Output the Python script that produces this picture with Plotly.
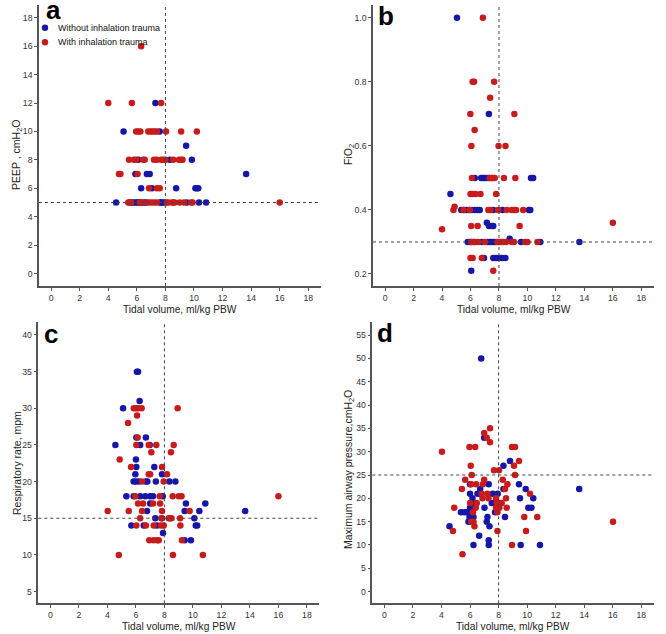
import plotly.graph_objects as go

# ---------------- data (tidal volume, ml/kg PBW, grouped by y value) ----------------
# Panel a: PEEP
peep_without = [(12, [7.3]), (10, [5.07, 7.6]), (9, [9.45]), (8, [6.1, 8.3, 9.85]),
                (7, [5.9, 6.7, 6.9, 13.65]), (6, [6.3, 7.05, 8.75, 10.1, 10.2, 10.3]),
                (5, [4.55, 5.5, 5.65, 5.8, 5.95, 6.05, 6.15, 6.3, 6.5, 6.65, 7.6, 7.7, 7.8, 7.9, 9.5, 10.35, 10.85])]
peep_with = [(16, [6.3]), (12, [4.0, 5.65, 7.7]),
             (10, [5.95, 6.1, 6.25, 6.8, 6.95, 7.1, 7.25, 7.4, 8.04, 9.1, 10.2]),
             (8, [5.45, 5.8, 5.95, 6.45, 6.55, 7.2, 7.4, 7.7, 7.85, 8.0, 8.55, 8.95, 9.1, 9.2]),
             (7, [4.75, 4.85, 6.05]), (6, [6.85, 7.4, 7.6]),
             (5, [5.4, 5.6, 6.2, 6.4, 6.8, 7.0, 7.2, 7.4, 8.1, 8.2, 8.45, 8.55, 8.65, 9.0, 9.3, 9.8, 9.9, 16.0])]

# Panel b: FiO2
fio2_without = [(1.0, [5.05]), (0.7, [7.29]), (0.5, [6.3, 6.75, 6.9, 7.0, 7.15, 7.3, 7.55, 10.25, 10.4]),
                (0.45, [4.59]), (0.4, [5.35, 5.55, 5.7, 5.9, 6.1, 6.3, 6.5, 6.65, 7.6, 8.25, 10.1, 10.2]),
                (0.36, [7.15]), (0.35, [7.3, 7.5, 7.6]), (0.31, [8.75]),
                (0.3, [5.8, 5.95, 6.1, 6.25, 6.8, 7.2, 7.35, 7.5, 7.65, 7.8, 9.55, 10.9, 13.65]),
                (0.25, [6.95, 7.6, 7.8, 8.0, 8.2, 8.45]), (0.21, [6.05])]
fio2_with = [(1.0, [6.87]), (0.8, [6.15, 6.25, 7.66]), (0.75, [7.38]), (0.7, [5.99, 9.08]),
             (0.65, [6.29]), (0.6, [6.06, 7.97, 8.46]), (0.5, [6.1, 7.35, 7.5, 7.7, 8.35, 9.15]),
             (0.45, [6.0, 6.15, 6.35, 6.7, 7.8]), (0.41, [4.88]),
             (0.4, [4.8, 5.5, 5.95, 7.25, 7.4, 7.95, 8.55, 8.9, 9.05, 9.2, 9.7]),
             (0.36, [16.0]), (0.35, [6.05, 6.5, 9.45]), (0.34, [4.0]),
             (0.3, [6.05, 6.35, 6.55, 7.0, 7.9, 8.05, 8.15, 8.3, 8.5, 8.9, 9.05, 9.85, 10.0, 10.7]),
             (0.25, [6.0, 6.15, 6.8]), (0.21, [7.6])]

# Panel c: respiratory rate
rr_without = [(35, [6.07, 6.15]), (31, [6.26]), (30, [5.1]), (26, [6.03, 6.7]), (25, [4.56, 6.3, 6.97]),
              (23, [6.0]), (22, [6.03, 7.29]), (21, [5.96, 7.83]),
              (20, [5.84, 6.0, 6.2, 6.7, 6.8, 7.4, 8.35, 8.77]),
              (18, [5.33, 5.84, 6.3, 6.66, 7.0, 7.2, 7.88]), (17, [7.0, 9.51, 10.87]),
              (16, [6.78, 9.42, 10.45, 13.67]), (15, [7.36, 7.83, 8.4, 10.1]),
              (14, [5.68, 6.55, 7.48, 10.2, 10.3]), (13, [7.9]), (12, [9.42, 9.86])]
rr_with = [(30, [5.85, 6.0, 6.15, 6.4, 8.93]), (29, [6.08]), (28, [5.45]), (26, [6.12]),
           (25, [6.03, 6.9, 7.43, 8.65]), (24, [7.08, 8.46]), (23, [4.86]), (22, [5.66, 7.83]),
           (21, [6.9, 7.0, 8.18]), (20, [6.43, 7.95]), (18, [5.96, 7.67, 8.58, 9.0, 9.2, 16.0]),
           (17, [6.15, 6.5, 7.2, 7.7]), (16, [4.02, 5.5, 6.43, 7.83, 9.77]),
           (15, [6.3, 7.78, 8.3, 8.5, 9.1]), (14, [6.03, 6.7, 7.25, 7.76, 7.95, 9.12]),
           (12, [6.94, 7.25, 7.5, 7.6, 9.23]), (10, [4.8, 8.6, 10.7])]

# Panel d: maximum airway pressure
paw_without = [(50, [6.78]), (33, [6.99]), (28, [8.8]), (27, [8.34]), (23, [6.0, 7.31, 9.43]),
               (22, [6.71, 8.34, 9.9, 13.65]), (21, [6.0, 6.52, 6.7, 7.59, 7.94]),
               (20, [6.17, 9.5, 10.43]), (19, [6.29, 7.52, 7.75]), (18, [6.0, 6.2, 7.01, 10.08, 10.3]),
               (17, [5.36, 5.6, 5.8, 7.75]), (16, [5.96, 6.24, 7.22, 8.45]), (15, [5.89, 7.17]),
               (14, [4.56, 7.36]), (12, [6.64]), (11, [7.31]), (10, [6.24, 7.31, 9.55, 10.9])]
paw_with = [(35, [7.4]), (34, [6.99]), (33, [7.17]), (32, [7.4]), (31, [5.96, 6.36, 8.94, 9.15]),
            (30, [4.03]), (28, [9.43]), (27, [6.05, 9.08]), (26, [7.68, 8.03]), (25, [6.12, 9.15]),
            (24, [5.66, 6.99, 8.29]), (23, [6.08, 6.43, 6.9, 8.62]), (22, [5.43, 8.45]),
            (21, [6.82, 7.22, 10.2]), (20, [6.87, 7.29, 7.82, 8.52]), (19, [6.0, 6.47, 7.87, 8.06, 8.22]),
            (18, [4.89, 6.4, 7.82, 8.06, 8.57]), (17, [6.2, 7.92]), (16, [9.8, 10.71]),
            (15, [6.08, 6.24, 16.02]), (14, [6.31]), (13, [4.8, 7.92, 9.92]), (10, [8.94]), (8, [5.47])]

x_ticks = [0, 2, 4, 6, 8, 10, 12, 14, 16, 18]
peep_ticks = [0, 2, 4, 6, 8, 10, 12, 14, 16, 18]
fio2_ticks = [0.2, 0.4, 0.6, 0.8, 1.0]
rr_ticks = [5, 10, 15, 20, 25, 30, 35, 40]
paw_ticks = [0, 5, 10, 15, 20, 25, 30, 35, 40, 45, 50, 55]

ref_tv = 8
ref_lines = [5, 0.3, 15, 25]
series_names = ["Without inhalation trauma", "With inhalation trauma"]

# ---------------- styling ----------------
W, H = 666, 634
BLUE = "#1616a8"
RED = "#c81c1c"
AXC = "#555555"
FONT = "Liberation Sans, Arial, sans-serif"


def px(x):
    return x / W


def py(y):
    return 1 - y / H


def flatten(rows):
    xs, ys = [], []
    for yv, xlist in rows:
        for xv in xlist:
            xs.append(xv)
            ys.append(yv)
    return xs, ys


panels = [
    dict(data=(peep_without, peep_with), xd=(39, 320.7), yd=(5, 286), yr=[-0.88, 18.9], ticks=peep_ticks,
         fmt=None, title="PEEP , cmH<sub>2</sub>O", tpos=(17, 155), xtpos=(180, 309.5), letter="a", lpos=(45, 10)),
    dict(data=(fio2_without, fio2_with), xd=(373, 653.7), yd=(5, 286), yr=[0.1625, 1.04], ticks=fio2_ticks,
         fmt=".1f", title="FiO<sub>2</sub>", tpos=(349, 155), xtpos=(513.5, 309.5), letter="b", lpos=(377, 16)),
    dict(data=(rr_without, rr_with), xd=(38.3, 319.3), yd=(322, 603.3), yr=[3.4, 41.77], ticks=rr_ticks,
         fmt=None, title="Respiratory rate, mpm", tpos=(17, 463), xtpos=(179, 626.3), letter="c", lpos=(43, 334)),
    dict(data=(paw_without, paw_with), xd=(372.3, 653.7), yd=(322, 603.3), yr=[-2.5, 57.8], ticks=paw_ticks,
         fmt=None, title="Maximum airway pressure,cmH<sub>2</sub>O", tpos=(349, 470), xtpos=(513, 626.3),
         letter="d", lpos=(376, 333)),
]

fig = go.Figure()
annotations = []
shapes = []

for i, p in enumerate(panels):
    n = "" if i == 0 else str(i + 1)
    xa, ya = "x" + n, "y" + n
    for rows, color, name in zip(p["data"], (BLUE, RED), series_names):
        xs, ys = flatten(rows)
        fig.add_trace(go.Scatter(x=xs, y=ys, mode="markers", name=name, showlegend=False,
                                 marker=dict(color=color, size=6.5, line=dict(width=0)),
                                 xaxis=xa, yaxis=ya, cliponaxis=False))
    axis_common = dict(showgrid=False, zeroline=False, showline=True, linecolor=AXC, linewidth=1.5,
                       ticks="outside", ticklen=3, tickwidth=1, tickcolor=AXC, automargin=False,
                       tickfont=dict(family=FONT, size=8.7, color="#333333"), mirror=False)
    fig.layout["xaxis" + n] = dict(domain=[px(p["xd"][0]), px(p["xd"][1])], range=[-0.85, 18.87],
                                   anchor=ya, tickvals=x_ticks, **axis_common)
    yax = dict(domain=[py(p["yd"][1]), py(p["yd"][0])], range=p["yr"], anchor=xa,
               tickvals=p["ticks"], **axis_common)
    if p["fmt"]:
        yax["tickformat"] = p["fmt"]
    fig.layout["yaxis" + n] = yax

    # dotted reference lines
    shapes.append(dict(type="line", xref=xa, yref=ya + " domain", x0=ref_tv, x1=ref_tv, y0=0, y1=1,
                       line=dict(color="#444444", width=1, dash="dot")))
    shapes.append(dict(type="line", xref=xa + " domain", yref=ya, x0=0, x1=1, y0=ref_lines[i], y1=ref_lines[i],
                       line=dict(color="#444444", width=1, dash="dot")))

    # axis titles
    annotations.append(dict(text=p["title"], x=px(p["tpos"][0]), y=py(p["tpos"][1]), xref="paper", yref="paper",
                            textangle=-90, showarrow=False, xanchor="center", yanchor="middle",
                            font=dict(family=FONT, size=10.5, color="#222222")))
    annotations.append(dict(text="Tidal volume, ml/kg PBW", x=px(p["xtpos"][0]), y=py(p["xtpos"][1]),
                            xref="paper", yref="paper", showarrow=False, xanchor="center", yanchor="middle",
                            borderpad=0, font=dict(family=FONT, size=10.2, color="#222222")))
    # panel letter
    annotations.append(dict(text="<b>%s</b>" % p["letter"], x=px(p["lpos"][0]), y=py(p["lpos"][1]),
                            xref="paper", yref="paper", showarrow=False, xanchor="left", yanchor="middle",
                            borderpad=0, font=dict(family=FONT, size=26, color="#000000")))

# legend (drawn inside panel a)
for (cy, color, name) in [(27.7, BLUE, series_names[0]), (42.3, RED, series_names[1])]:
    r = 3.2
    shapes.append(dict(type="circle", xref="paper", yref="paper", x0=px(45 - r), x1=px(45 + r),
                       y0=py(cy + r), y1=py(cy - r), fillcolor=color, line=dict(width=0)))
    annotations.append(dict(text=name, x=px(56), y=py(cy), xref="paper", yref="paper", showarrow=False,
                            xanchor="left", yanchor="middle", font=dict(family=FONT, size=9, color="#111111")))

fig.update_layout(width=W, height=H, margin=dict(l=0, r=0, t=0, b=0), paper_bgcolor="white",
                  plot_bgcolor="white", showlegend=False, annotations=annotations, shapes=shapes)

fig.write_html("out.html", config={"displayModeBar": False},
               post_script="document.body.style.margin='0';document.body.style.padding='0';")
